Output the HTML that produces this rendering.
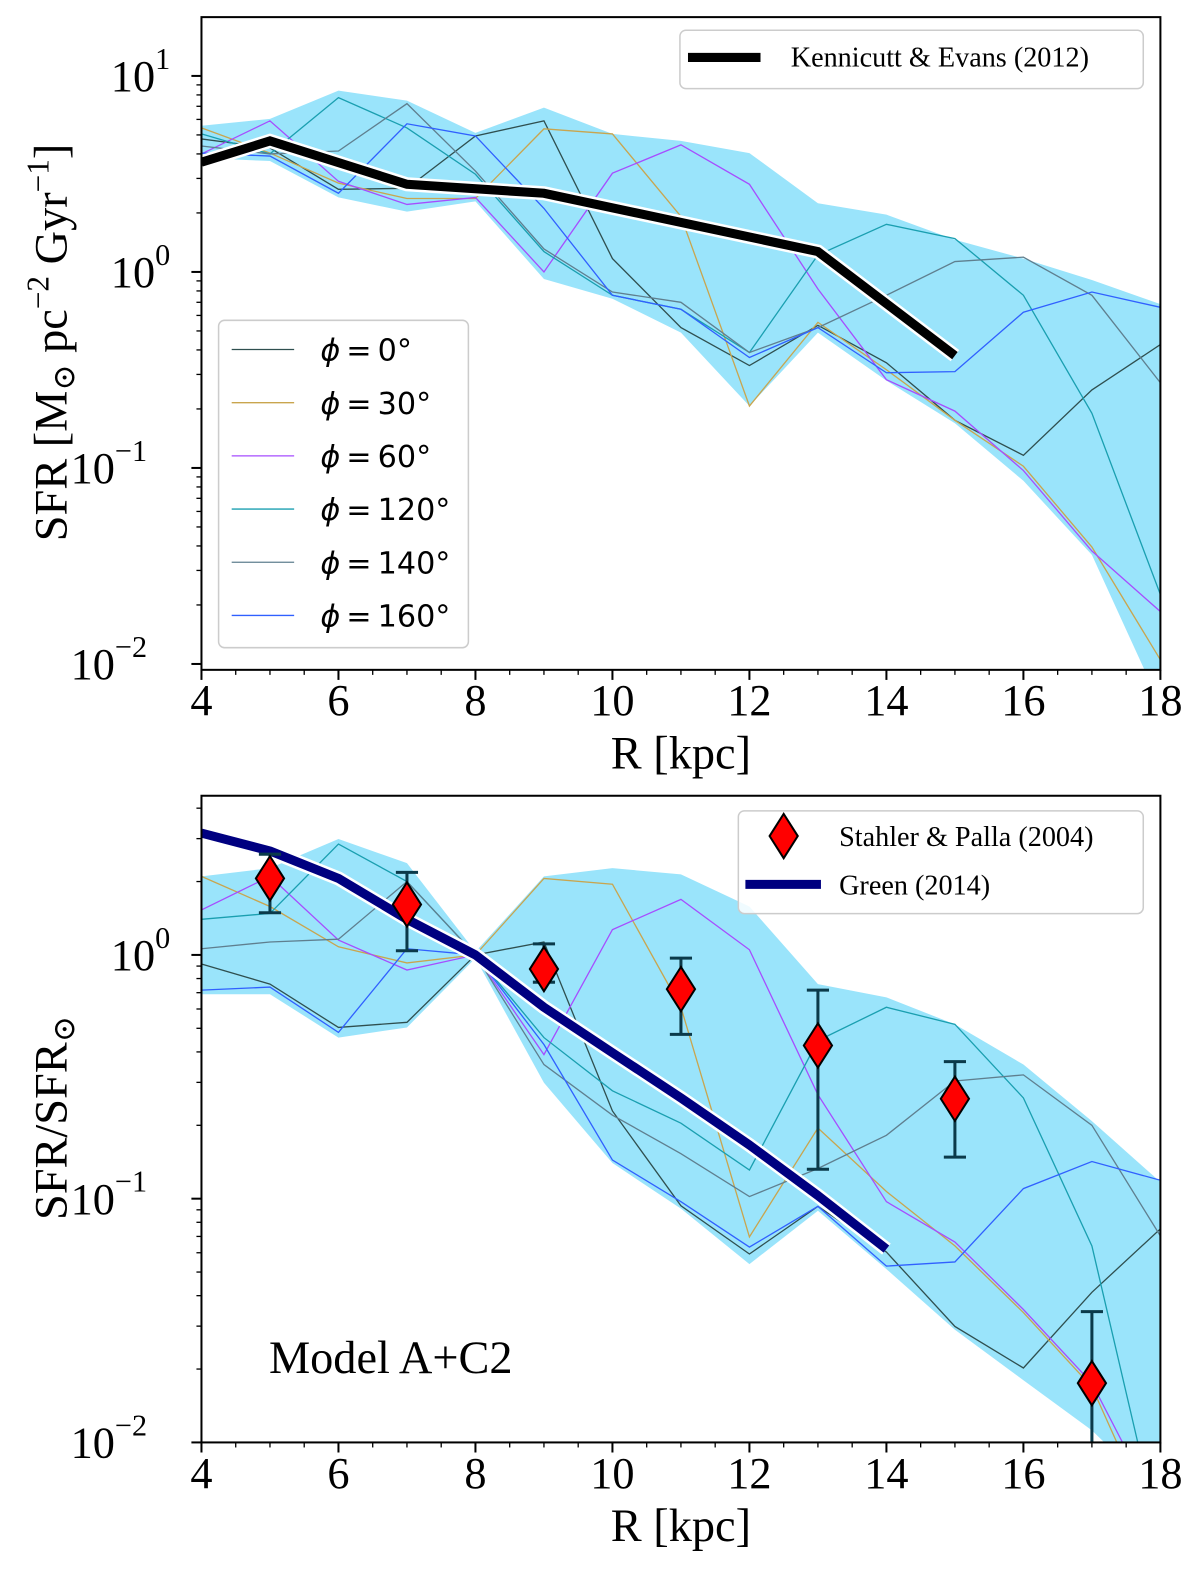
<!DOCTYPE html>
<html><head><meta charset="utf-8"><style>
html,body{margin:0;padding:0;background:#fff;overflow:hidden;width:1200px;height:1577px;}
svg{display:block;}
text{font-family:"Liberation Serif","DejaVu Serif",serif;fill:#000;}
.sans{font-family:"DejaVu Sans","Liberation Sans",sans-serif;}
</style></head><body>
<svg id="fig" width="1200" height="1577" viewBox="0 0 1191.3 1565.6" xmlns="http://www.w3.org/2000/svg"></svg>
<script>
// ---------- data ----------
const radii = [4,5,6,7,8,9,10,11,12,13,14,15,16,17,18];
const phiLabels = ['0','30','60','120','140','160'];
const phiColors = ['#2f4f4f','#c9a54e','#a64dff','#1a9fb0','#5f7f8f','#3060ff'];
// top panel: SFR surface density
const top_phi0   = [4.77,4.29,2.64,2.67,4.94,5.9,1.17,0.52,0.333,0.534,0.344,0.175,0.116,0.25,0.426];
const top_phi30  = [5.43,4.04,2.84,2.37,2.37,5.37,5.06,1.92,0.207,0.553,0.317,0.175,0.102,0.0395,0.0105];
const top_phi60  = [4.0,5.9,2.9,2.21,2.4,1.0,3.19,4.45,2.8,0.818,0.282,0.195,0.097,0.0377,0.0185];
const top_phi120 = [5.06,4.0,7.75,5.43,3.15,1.27,0.76,0.645,0.388,1.22,1.75,1.48,0.76,0.19,0.0226];
const top_phi140 = [4.39,4.0,4.14,7.22,3.27,1.31,0.79,0.70,0.388,0.52,0.76,1.13,1.19,0.76,0.272];
const top_phi160 = [4.04,3.9,2.52,5.7,4.94,2.11,0.76,0.645,0.366,0.52,0.306,0.31,0.623,0.79,0.66];
const top_bandHi = [5.57,6.04,8.42,7.48,5.12,6.89,5.06,4.66,4.04,2.24,1.96,1.46,1.17,0.91,0.685];
const top_bandLo = [3.81,3.68,2.40,2.03,2.29,0.92,0.73,0.49,0.207,0.49,0.279,0.169,0.086,0.036,0.0062];
const kenR = [4,5,7,9,13,15];
const kenV = [3.63,4.66,2.80,2.52,1.27,0.374];
// bottom panel: normalized SFR
const bot_phi0   = [0.918,0.759,0.504,0.529,1,1.13,0.229,0.0935,0.0593,0.093,0.0604,0.0299,0.0202,0.0413,0.0752];
const bot_phi30  = [2.10,1.58,1.08,0.927,1,2.06,1.95,0.61,0.0697,0.195,0.107,0.064,0.0341,0.0169,0.004];
const bot_phi60  = [1.53,2.10,1.15,0.867,1,0.39,1.27,1.69,1.05,0.267,0.0972,0.0664,0.0351,0.0175,0.005];
const bot_phi120 = [1.40,1.48,2.85,2.0,1,0.458,0.277,0.204,0.131,0.445,0.61,0.519,0.259,0.064,0.004];
const bot_phi140 = [1.06,1.13,1.16,2.0,1,0.355,0.22,0.153,0.102,0.133,0.182,0.304,0.322,0.2,0.0703];
const bot_phi160 = [0.717,0.738,0.481,1.06,1,0.429,0.144,0.0972,0.0633,0.093,0.0529,0.055,0.11,0.142,0.119];
const bot_bandHi = [2.10,2.27,2.99,2.38,1.03,2.10,2.27,2.14,1.58,0.759,0.67,0.519,0.355,0.208,0.117];
const bot_bandLo = [0.69,0.69,0.458,0.504,0.97,0.299,0.14,0.091,0.0539,0.0892,0.0514,0.029,0.018,0.0112,0.006];
const greenR = [4,5,6,7,8,9,10,11,12,13,14];
const greenV = [3.16,2.67,2.06,1.40,1.0,0.61,0.397,0.259,0.166,0.103,0.0621];
const spR  = [5,7,9,11,13,15,17];
const spV  = [2.06,1.61,0.875,0.724,0.425,0.257,0.0175];
const spHi = [2.59,2.18,1.11,0.97,0.717,0.365,0.0344];
const spLo = [1.49,1.04,0.773,0.472,0.132,0.148,0.001];
const xTicks = [4,6,8,10,12,14,16,18];

// ---------- helpers ----------
const NS='http://www.w3.org/2000/svg';
const svg=document.getElementById('fig');
function mk(tag,attrs,parent){const e=document.createElementNS(NS,tag);for(const k in attrs)e.setAttribute(k,attrs[k]);(parent||svg).appendChild(e);return e;}

function panel(P){
  const g=mk('g',{});
  
  
  const X=r=>P.x0+(r-4)/14*(P.x1-P.x0);
  const Y=v=>P.y1-(Math.log10(Math.max(v,1e-4))-P.lmin)/(P.lmax-P.lmin)*(P.y1-P.y0);
  const clipId='clip'+P.name;
  const defs=mk('defs',{},g);const cp=mk('clipPath',{id:clipId},defs);
  mk('rect',{x:P.x0,y:P.y0,width:P.x1-P.x0,height:P.y1-P.y0},cp);
  const plot=mk('g',{'clip-path':'url(#'+clipId+')'},g);
  let d='';radii.forEach((r,i)=>{d+=(i?'L':'M')+X(r)+','+Y(P.bandHi[i]);});
  for(let i=radii.length-1;i>=0;i--)d+='L'+X(radii[i])+','+Y(P.bandLo[i]);
  const band=mk('path',{d:d+'Z',fill:'#9ae4fb',stroke:'none'},plot);
  
  
  P.series.forEach((s,si)=>{
    const pts=radii.map((r,i)=>X(r)+','+Y(s[i])).join(' ');
    const pl=mk('polyline',{points:pts,fill:'none',stroke:phiColors[si],'stroke-width':1.3},plot);
    
    
  });
  P.extra(plot,X,Y);
  mk('rect',{x:P.x0,y:P.y0,width:P.x1-P.x0,height:P.y1-P.y0,fill:'none',stroke:'#000','stroke-width':2},g);
  for(let r=4;r<=18.001;r+=0.5){
    const major=Math.abs(r-Math.round(r/2)*2)<1e-6;
    mk('line',{x1:X(r),x2:X(r),y1:P.y1,y2:P.y1+(major?10:5),stroke:'#000','stroke-width':major?2:1.3},g);
  }
  xTicks.forEach(t=>{
    const tx=mk('text',{x:X(t),y:P.y1+45,'font-size':44,'text-anchor':'middle'},g);
    tx.textContent=t;
    
    
  });
  for(let e=Math.floor(P.lmin);e<=Math.ceil(P.lmax);e++){
    for(let m=1;m<10;m++){
      const l=e+Math.log10(m);if(l<P.lmin-1e-6||l>P.lmax)continue;
      const y=Y(Math.pow(10,l));
      mk('line',{x1:P.x0,x2:P.x0-(m===1?10:5),y1:y,y2:y,stroke:'#000','stroke-width':m===1?2:1.3},g);
      if(m===1){
        const tx=mk('text',{x:P.x0-14,y:y+15,'font-size':44,'text-anchor':'end'},g);
        
        
        tx.textContent='10';
        const sp=mk('tspan',{dy:-22,'font-size':30},tx);sp.textContent=(e<0?'\u2212':'')+Math.abs(e);
        tx.setAttribute('x',P.x0-14-(e<0?40:17));
      }
    }
  }
  const xt=mk('text',{x:(P.x0+P.x1)/2,y:P.y1+98,'font-size':46,'text-anchor':'middle'},g);
  xt.textContent='R [kpc]';
  
  
  return {g,X,Y};
}

panel({name:'top-panel',x0:200,x1:1152,y0:17,y1:665,lmin:-2.03,lmax:1.30,
  series:[top_phi0,top_phi30,top_phi60,top_phi120,top_phi140,top_phi160],
  bandHi:top_bandHi,bandLo:top_bandLo,
  extra:(plot,X,Y)=>{
    const pts=kenR.map((r,i)=>X(r)+','+Y(kenV[i])).join(' ');
    mk('polyline',{points:pts,fill:'none',stroke:'#fff','stroke-width':14,'stroke-linejoin':'miter'},plot);
    const k=mk('polyline',{points:pts,fill:'none',stroke:'#000','stroke-width':9},plot);
    
    
  }});
const yt1=mk('text',{x:0,y:0,'font-size':46,'text-anchor':'middle',transform:'translate(66,340) rotate(-90)'});


yt1.innerHTML='SFR [M<tspan font-size="31" dy="8">⊙</tspan><tspan dy="-8"> pc</tspan><tspan font-size="31" dy="-18">−2</tspan><tspan dy="18"> Gyr</tspan><tspan font-size="31" dy="-18">−1</tspan><tspan dy="18">]</tspan>';
const lg1=mk('g',{});


mk('rect',{x:675,y:30,width:460,height:58,rx:6,fill:'#fff','fill-opacity':0.85,stroke:'#ccc','stroke-width':1.5},lg1);
mk('line',{x1:683,x2:755,y1:57,y2:57,stroke:'#000','stroke-width':9},lg1);
const lt1=mk('text',{x:785,y:66,'font-size':28},lg1);lt1.textContent='Kennicutt & Evans (2012)';
const lg2=mk('g',{});


mk('rect',{x:217,y:318,width:248,height:325,rx:6,fill:'#fff','fill-opacity':0.85,stroke:'#ccc','stroke-width':1.5},lg2);
phiLabels.forEach((p,i)=>{
  const y=347+i*52.8;
  mk('line',{x1:230,x2:292,y1:y,y2:y,stroke:phiColors[i],'stroke-width':1.3},lg2);
  const t=mk('text',{x:318,y:y+11,'font-size':30,class:'sans'},lg2);
  
  
  t.innerHTML='<tspan font-style="italic">ϕ</tspan><tspan dx="6">=</tspan><tspan dx="6">'+p+'°</tspan>';
});

panel({name:'bottom-panel',x0:200,x1:1152,y0:790,y1:1432,lmin:-2,lmax:0.653,
  series:[bot_phi0,bot_phi30,bot_phi60,bot_phi120,bot_phi140,bot_phi160],
  bandHi:bot_bandHi,bandLo:bot_bandLo,
  extra:(plot,X,Y)=>{
    const pts=greenR.map((r,i)=>X(r)+','+Y(greenV[i])).join(' ');
    mk('polyline',{points:pts,fill:'none',stroke:'#fff','stroke-width':14,'stroke-linejoin':'round'},plot);
    const gl=mk('polyline',{points:pts,fill:'none',stroke:'#000080','stroke-width':9,'stroke-linejoin':'round'},plot);
    
    
    spR.forEach((r,i)=>{
      const x=X(r),y=Y(spV[i]),yh=Y(spHi[i]),yl=Y(spLo[i]);
      const eb=mk('g',{},plot);
      
      
      mk('line',{x1:x,x2:x,y1:yh,y2:yl,stroke:'#0b3a4a','stroke-width':3},eb);
      mk('line',{x1:x-11,x2:x+11,y1:yh,y2:yh,stroke:'#0b3a4a','stroke-width':3},eb);
      mk('line',{x1:x-11,x2:x+11,y1:yl,y2:yl,stroke:'#0b3a4a','stroke-width':3},eb);
      mk('path',{d:`M${x},${y-22}L${x+14},${y}L${x},${y+22}L${x-14},${y}Z`,fill:'#ff0000',stroke:'#000','stroke-width':2},eb);
    });
  }});
const yt2=mk('text',{x:0,y:0,'font-size':46,'text-anchor':'middle',transform:'translate(66,1110) rotate(-90)'});


yt2.innerHTML='SFR/SFR<tspan font-size="31" dy="8">⊙</tspan>';
const lg3=mk('g',{});


mk('rect',{x:733,y:805,width:402,height:102,rx:6,fill:'#fff','fill-opacity':0.85,stroke:'#ccc','stroke-width':1.5},lg3);
mk('path',{d:'M778,808L792,830L778,852L764,830Z',fill:'#ff0000',stroke:'#000','stroke-width':2},lg3);
const lt3=mk('text',{x:833,y:840,'font-size':28},lg3);lt3.textContent='Stahler & Palla (2004)';
mk('line',{x1:740,x2:815,y1:878,y2:878,stroke:'#000080','stroke-width':9},lg3);
const lt4=mk('text',{x:833,y:888,'font-size':28},lg3);lt4.textContent='Green (2014)';
const ml=mk('text',{x:267,y:1363,'font-size':46});
ml.textContent='Model A+C2';


</script>
</body></html>
